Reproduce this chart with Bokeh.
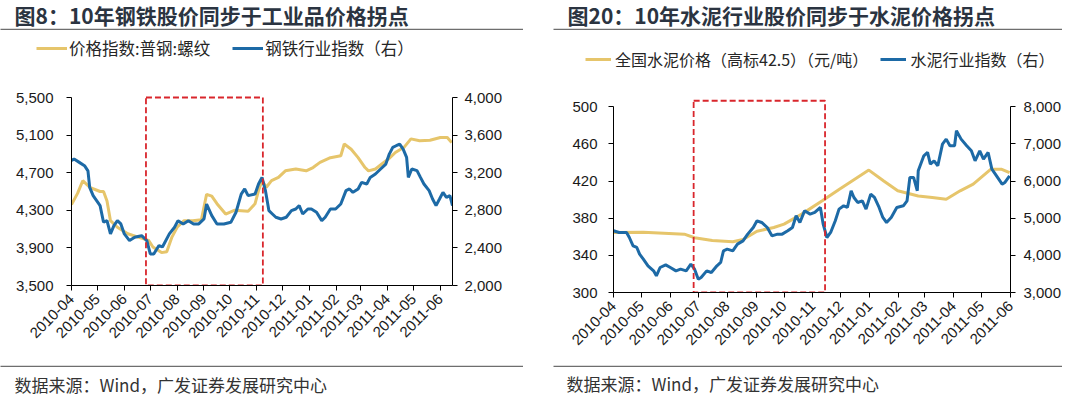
import math
import pandas as pd
from bokeh.plotting import figure
from bokeh.layouts import row, column
from bokeh.core.properties import value
from bokeh.models import (Range1d, LinearAxis, FixedTicker, NumeralTickFormatter,
                          DatetimeTickFormatter, Legend, LegendItem)
from bokeh.embed import file_html
from bokeh.resources import INLINE

# ---------------- data ----------------
month_labels = ["2010-04", "2010-05", "2010-06", "2010-07", "2010-08", "2010-09", "2010-10",
                "2010-11", "2010-12", "2011-01", "2011-02", "2011-03", "2011-04", "2011-05", "2011-06"]

steel_left_ticks = [3500, 3900, 4300, 4700, 5100, 5500]
steel_right_ticks = [2000, 2400, 2800, 3200, 3600, 4000]
cement_left_ticks = [300, 340, 380, 420, 460, 500]
cement_right_ticks = [3000, 4000, 5000, 6000, 7000, 8000]

# 价格指数:普钢:螺纹 (left axis)
rebar_dates = ["2010-04-01", "2010-04-08", "2010-04-14", "2010-04-22", "2010-05-04", "2010-05-08",
               "2010-05-12", "2010-05-16", "2010-05-24", "2010-06-05", "2010-06-17", "2010-06-29",
               "2010-07-04", "2010-07-14", "2010-07-20", "2010-07-26", "2010-08-01", "2010-08-09",
               "2010-08-19", "2010-08-29", "2010-09-04", "2010-09-10", "2010-09-16", "2010-09-26",
               "2010-10-06", "2010-10-22", "2010-10-30", "2010-11-03", "2010-11-07", "2010-11-12",
               "2010-11-18", "2010-11-26", "2010-12-04", "2010-12-16", "2010-12-28", "2011-01-05",
               "2011-01-13", "2011-01-25", "2011-02-06", "2011-02-10", "2011-02-18", "2011-02-26",
               "2011-03-06", "2011-03-10", "2011-03-18", "2011-03-25", "2011-04-02", "2011-04-10",
               "2011-04-20", "2011-04-28", "2011-05-08", "2011-05-20", "2011-06-01", "2011-06-09",
               "2011-06-14"]
rebar_price = [4360, 4480, 4615, 4545, 4500, 4500,
               4400, 4190, 4120, 4050, 4015, 3980,
               3910, 3850, 3860, 4015, 4120, 4190,
               4190, 4200, 4470, 4450, 4370, 4260,
               4300, 4290, 4370, 4510, 4615, 4545,
               4615, 4650, 4720, 4740, 4720, 4755,
               4810, 4860, 4880, 5005, 4950, 4860,
               4755, 4720, 4740, 4790, 4845, 4915,
               4970, 5060, 5040, 5045, 5075, 5075,
               5020]

# 钢铁行业指数（右）
steel_idx_dates = ["2010-04-01", "2010-04-04", "2010-04-10", "2010-04-16", "2010-04-20", "2010-04-22",
                   "2010-04-26", "2010-04-30", "2010-05-04", "2010-05-08", "2010-05-12", "2010-05-16",
                   "2010-05-20", "2010-05-24", "2010-05-28", "2010-06-01", "2010-06-07", "2010-06-13",
                   "2010-06-21", "2010-06-27", "2010-07-01", "2010-07-05", "2010-07-11", "2010-07-15",
                   "2010-07-23", "2010-07-29", "2010-08-02", "2010-08-08", "2010-08-14", "2010-08-20",
                   "2010-08-26", "2010-09-01", "2010-09-04", "2010-09-10", "2010-09-16", "2010-09-24",
                   "2010-10-02", "2010-10-08", "2010-10-14", "2010-10-18", "2010-10-22", "2010-10-30",
                   "2010-11-03", "2010-11-07", "2010-11-11", "2010-11-15", "2010-11-19", "2010-11-23",
                   "2010-11-29", "2010-12-05", "2010-12-11", "2010-12-16", "2010-12-20", "2010-12-24",
                   "2010-12-30", "2011-01-03", "2011-01-09", "2011-01-15", "2011-01-19", "2011-01-25",
                   "2011-01-31", "2011-02-06", "2011-02-12", "2011-02-16", "2011-02-20", "2011-02-26",
                   "2011-03-02", "2011-03-08", "2011-03-12", "2011-03-18", "2011-03-24", "2011-03-30",
                   "2011-04-03", "2011-04-07", "2011-04-11", "2011-04-15", "2011-04-19", "2011-04-23",
                   "2011-04-25", "2011-04-29", "2011-05-05", "2011-05-09", "2011-05-13", "2011-05-19",
                   "2011-05-23", "2011-05-27", "2011-05-31", "2011-06-04", "2011-06-08", "2011-06-12",
                   "2011-06-15"]
steel_idx = [3330, 3345, 3310, 3275, 3220, 3044,
             2956, 2903, 2850, 2673, 2690, 2549,
             2637, 2690, 2655, 2549, 2478, 2513,
             2530, 2478, 2336, 2336, 2425, 2410,
             2549, 2620, 2690, 2655, 2690, 2655,
             2655, 2708, 2867, 2743, 2655, 2655,
             2672, 2779, 2973, 3027, 2956, 2973,
             3080, 3150, 3009, 2796, 2761, 2726,
             2708, 2726, 2796, 2814, 2850, 2761,
             2814, 2814, 2779, 2690, 2726, 2814,
             2814, 2867, 3009, 3027, 2991, 3027,
             3097, 3080, 3150, 3186, 3239, 3292,
             3398, 3469, 3487, 3504, 3450, 3363,
             3150, 3239, 3222, 3150, 3080, 3009,
             2920, 2850, 2920, 2991, 2938, 2956,
             2850]

# 全国水泥价格（高标42.5）（元/吨）
cement_price_dates = ["2010-04-01", "2010-05-03", "2010-06-16", "2010-06-27", "2010-07-16", "2010-08-07",
                      "2010-08-18", "2010-09-02", "2010-09-20", "2010-10-01", "2010-10-20", "2010-11-11",
                      "2010-11-29", "2010-12-31", "2011-01-16", "2011-01-31", "2011-02-22", "2011-03-09",
                      "2011-03-24", "2011-04-08", "2011-04-22", "2011-05-11", "2011-05-22", "2011-05-31"]
cement_price = [364.6, 365.0, 362.8, 359.0, 356.0, 354.6,
                357.0, 366.0, 370.0, 373.6, 384.4, 398.7,
                411.0, 431.8, 420.0, 409.5, 404.0, 402.3,
                400.5, 409.5, 416.7, 432.8, 432.8, 429.0]

# 水泥行业指数（右）
cement_idx_dates = ["2010-04-01", "2010-04-07", "2010-04-15", "2010-04-18", "2010-04-22", "2010-04-26",
                    "2010-04-29", "2010-05-03", "2010-05-08", "2010-05-14", "2010-05-17", "2010-05-21",
                    "2010-05-27", "2010-06-01", "2010-06-07", "2010-06-12", "2010-06-18", "2010-06-23",
                    "2010-06-27", "2010-07-01", "2010-07-04", "2010-07-10", "2010-07-15", "2010-07-21",
                    "2010-07-25", "2010-07-28", "2010-08-01", "2010-08-07", "2010-08-12", "2010-08-18",
                    "2010-08-23", "2010-08-29", "2010-09-02", "2010-09-07", "2010-09-13", "2010-09-18",
                    "2010-09-24", "2010-09-29", "2010-10-05", "2010-10-10", "2010-10-14", "2010-10-18",
                    "2010-10-23", "2010-10-29", "2010-11-03", "2010-11-09", "2010-11-12", "2010-11-16",
                    "2010-11-20", "2010-11-25", "2010-11-29", "2010-12-04", "2010-12-08", "2010-12-12",
                    "2010-12-15", "2010-12-19", "2010-12-24", "2010-12-28", "2011-01-02", "2011-01-06",
                    "2011-01-11", "2011-01-15", "2011-01-19", "2011-01-24", "2011-01-30", "2011-02-06",
                    "2011-02-10", "2011-02-13", "2011-02-17", "2011-02-21", "2011-02-22", "2011-02-28",
                    "2011-03-04", "2011-03-07", "2011-03-11", "2011-03-15", "2011-03-20", "2011-03-24",
                    "2011-03-28", "2011-04-02", "2011-04-04", "2011-04-09", "2011-04-15", "2011-04-20",
                    "2011-04-24", "2011-04-29", "2011-05-03", "2011-05-08", "2011-05-12", "2011-05-17",
                    "2011-05-23", "2011-05-26", "2011-05-31"]
cement_idx = [4661, 4616, 4616, 4481, 4257, 4212,
              4032, 3898, 3718, 3583, 3449, 3673,
              3745, 3673, 3583, 3628, 3583, 3763,
              3628, 3359, 3404, 3583, 3538, 3718,
              3808, 4122, 4167, 4122, 4302, 4391,
              4571, 4750, 4930, 4885, 4750, 4526,
              4571, 4571, 4661, 4750, 5065, 4885,
              5199, 5110, 5155, 5289, 4840, 4481,
              4616, 4930, 5244, 5334, 5289, 5738,
              5558, 5424, 5469, 5244, 5648, 5558,
              5289, 5020, 4885, 5020, 5289, 5334,
              5469, 6097, 6097, 5738, 6277, 6680,
              6770, 6456, 6546, 6411, 6995, 7129,
              6950, 6950, 7354, 7129, 6950, 6815,
              6546, 6815, 6590, 6770, 6321, 6142,
              5918, 5963, 6142]

steel_box_dates = ["2010-06-26", "2010-11-08"]
steel_box_vals = [3500, 5500]
cement_box_dates = ["2010-06-26", "2010-11-14"]
cement_box_vals = [300, 506.5]

# ---------------- style ----------------
FONT_NUM = "Liberation Sans"
FONT_CJK = "Noto Sans CJK SC"
YELLOW = "#E6C56B"
BLUE = "#1D6AA6"
RED = "#D9262C"
TITLE_COLOR = "#2B3441"
RULE_COLOR = "#6E6E6E"
TEXT_COLOR = "#262626"

PANEL_W = 540
HEAD_H = 80
FOOT_H = 39
CHART_H = 397 - HEAD_H - FOOT_H


def blank(h):
    f = figure(width=PANEL_W, height=h, x_range=Range1d(0, PANEL_W), y_range=Range1d(0, h),
               output_backend="svg", toolbar_location=None,
               x_axis_location=None, y_axis_location=None, frame_align=False,
               min_border=0, min_border_left=0, min_border_right=0,
               min_border_top=0, min_border_bottom=0)
    f.grid.visible = False
    f.outline_line_color = None
    f.background_fill_color = "white"
    f.border_fill_color = "white"
    return f


def style_axis(ax, standoff):
    ax.axis_line_color = "black"
    ax.axis_line_width = 1
    ax.major_tick_line_color = "black"
    ax.major_tick_in = 0
    ax.major_tick_out = 5
    ax.minor_tick_line_color = None
    ax.major_label_text_font = FONT_NUM
    ax.major_label_text_font_size = "15px"
    ax.major_label_text_color = "#1a1a1a"
    ax.major_label_standoff = standoff


def rule(fig, h, x0, x1, y_from_top):
    # horizontal separator drawn as a legend sample line (annotation layer)
    r = fig.line(x=[-60, -55], y=[-60, -60], line_color=RULE_COLOR, line_width=1.5)
    fig.add_layout(Legend(items=[LegendItem(label=" ", renderers=[r])],
                          location=(x0, h - y_from_top - 1), orientation="horizontal",
                          padding=0, margin=0, spacing=0, glyph_width=x1 - x0, glyph_height=2,
                          label_height=2, label_width=0, label_standoff=0,
                          label_text_font_size="1px",
                          border_line_color=None, background_fill_alpha=0))


def make_panel(mb, x_end, y_rng, y_ticks, r_rng, r_ticks,
               price_d, price_v, idx_d, idx_v, box_d, box_v,
               title, leg_labels, leg, source, deco, stand):
    # ---- header: title, rule, legend ----
    h = blank(HEAD_H)
    h.text(x=[deco["title"][0]], y=[HEAD_H - deco["title"][1]], text=[title],
           text_font=value(FONT_CJK), text_font_size="21px", text_font_style="bold",
           text_color=TITLE_COLOR, text_baseline="middle", text_align="left")
    rule(h, HEAD_H, deco["rule"][0], deco["rule"][1], deco["rule_y"][0])
    d1 = h.line(x=[-50, -40], y=[-50, -50], line_color=YELLOW, line_width=3)
    d2 = h.line(x=[-50, -40], y=[-50, -50], line_color=BLUE, line_width=3)
    lg = Legend(items=[LegendItem(label=leg_labels[0], renderers=[d1]),
                       LegendItem(label=leg_labels[1], renderers=[d2])],
                location=leg["loc"], orientation="horizontal", padding=0, margin=0,
                spacing=leg["spacing"], glyph_width=leg["gw"], glyph_height=16,
                label_height=16, label_standoff=leg["standoff"],
                label_text_font=FONT_CJK, label_text_font_size=leg["fs"],
                label_text_color=TEXT_COLOR, label_text_baseline="middle",
                border_line_color=None, background_fill_alpha=0)
    h.add_layout(lg)

    # ---- chart ----
    p = figure(width=PANEL_W, height=CHART_H, x_axis_type="datetime",
               x_range=Range1d(pd.Timestamp(month_labels[0] + "-01"), pd.Timestamp(x_end)),
               y_range=Range1d(*y_rng), frame_align=False,
               output_backend="svg", toolbar_location=None,
               min_border_left=mb[0], min_border_right=mb[1],
               min_border_top=mb[2], min_border_bottom=mb[3])
    p.outline_line_color = None
    p.xgrid.visible = False
    p.ygrid.visible = False
    p.background_fill_color = "white"
    p.border_fill_color = "white"

    p.extra_y_ranges = {"idx": Range1d(*r_rng)}
    ax_r = LinearAxis(y_range_name="idx")
    p.add_layout(ax_r, "right")

    xa = p.xaxis[0]
    xa.ticker = FixedTicker(ticks=[pd.Timestamp(m + "-01").timestamp() * 1000 for m in month_labels])
    xa.formatter = DatetimeTickFormatter(days="%Y-%m", months="%Y-%m", years="%Y-%m")
    xa.major_label_orientation = math.pi / 4
    style_axis(xa, stand[2])

    ya = p.yaxis[0]
    ya.ticker = FixedTicker(ticks=y_ticks)
    ya.formatter = NumeralTickFormatter(format="0,0")
    ya.bounds = (y_ticks[0], y_ticks[-1])
    style_axis(ya, stand[0])

    ax_r.ticker = FixedTicker(ticks=r_ticks)
    ax_r.formatter = NumeralTickFormatter(format="0,0")
    ax_r.bounds = (r_ticks[0], r_ticks[-1])
    style_axis(ax_r, stand[1])

    p.line(pd.to_datetime(price_d), price_v, line_color=YELLOW, line_width=3)
    p.line(pd.to_datetime(idx_d), idx_v, line_color=BLUE, line_width=3, y_range_name="idx")
    p.quad(left=[pd.Timestamp(box_d[0])], right=[pd.Timestamp(box_d[1])],
           bottom=[box_v[0]], top=[box_v[1]],
           fill_color=None, line_color=RED, line_width=1.8, line_dash="6 3")

    # ---- footer: rule, source ----
    f = blank(FOOT_H)
    rule(f, FOOT_H, deco["rule"][0], deco["rule"][1], deco["rule_y"][1])
    f.text(x=[deco["source"][0]], y=[FOOT_H - deco["source"][1]], text=[source],
           text_font=value(FONT_CJK), text_font_size="17px",
           text_color="#333333", text_baseline="middle", text_align="left")
    return column(h, p, f)


panel1 = make_panel(
    mb=(71, 88, 14, 73), x_end="2011-06-15",
    y_rng=(3500, 5532), y_ticks=steel_left_ticks,
    r_rng=(2000, 4032), r_ticks=steel_right_ticks,
    price_d=rebar_dates, price_v=rebar_price, idx_d=steel_idx_dates, idx_v=steel_idx,
    box_d=steel_box_dates, box_v=steel_box_vals,
    title="图8：10年钢铁股价同步于工业品价格拐点",
    leg_labels=["价格指数:普钢:螺纹", "钢铁行业指数（右）"],
    leg=dict(loc=(36, 20), spacing=22, gw=31, standoff=2, fs="16.5px"),
    source="数据来源：Wind，广发证券发展研究中心",
    deco=dict(title=(14, 14), rule=(0, 523), rule_y=(28.5, 8), source=(14, 26)),
    stand=(13, 7, 6))

panel2 = make_panel(
    mb=(73, 70, 17, 66), x_end="2011-06-01",
    y_rng=(300, 510), y_ticks=cement_left_ticks,
    r_rng=(3000, 8250), r_ticks=cement_right_ticks,
    price_d=cement_price_dates, price_v=cement_price, idx_d=cement_idx_dates, idx_v=cement_idx,
    box_d=cement_box_dates, box_v=cement_box_vals,
    title="图20：10年水泥行业股价同步于水泥价格拐点",
    leg_labels=["全国水泥价格（高标42.5）（元/吨）", "水泥行业指数（右）"],
    leg=dict(loc=(45, 9), spacing=12, gw=26, standoff=4, fs="16px"),
    source="数据来源：Wind，广发证券发展研究中心",
    deco=dict(title=(27, 14), rule=(13, 522), rule_y=(28.5, 8), source=(26, 25)),
    stand=(11, 8, 6))

layout = row(panel1, panel2)
open("out.html", "w").write(file_html(layout, INLINE))
